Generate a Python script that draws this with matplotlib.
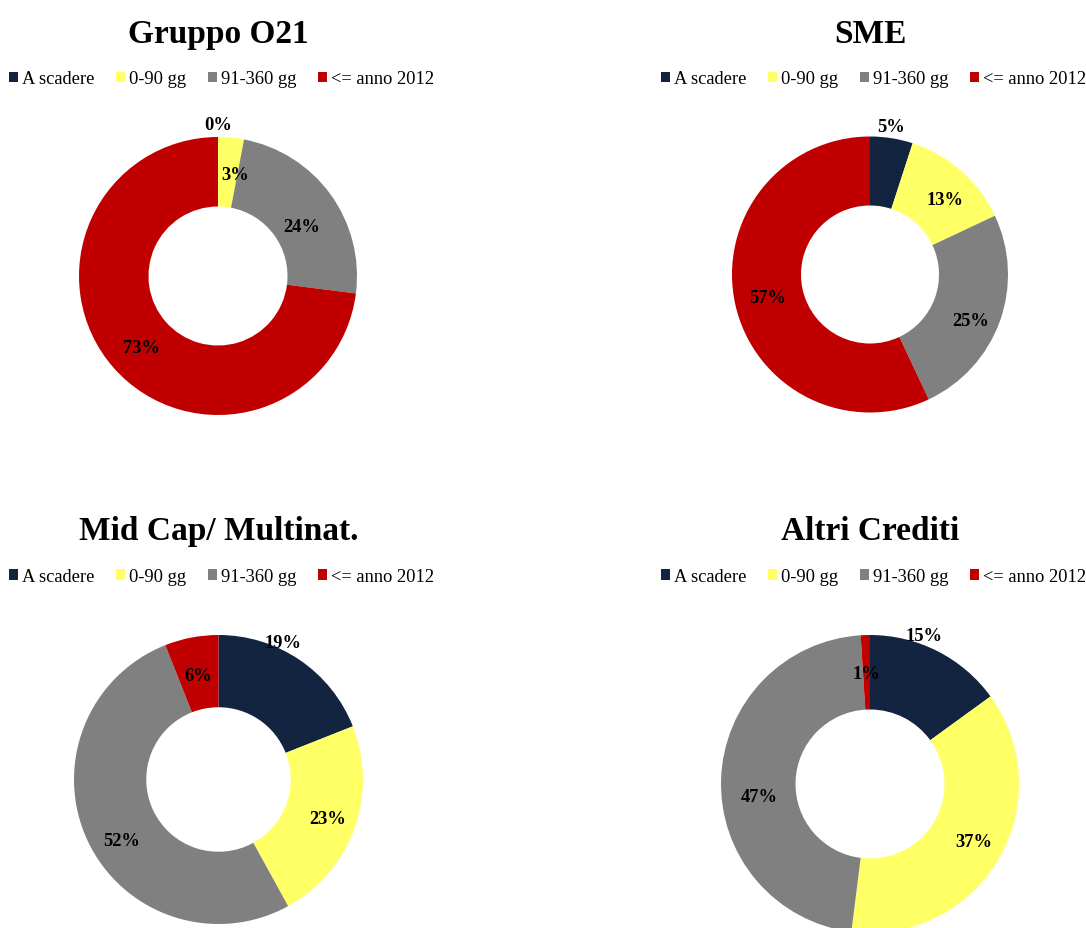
import numpy as np
import matplotlib
matplotlib.use("Agg")
import matplotlib.pyplot as plt
from matplotlib.patches import Patch

# ---------------- data ----------------
categories = ["A scadere", "0-90 gg", "91-360 gg", "<= anno 2012"]
titles = ["Gruppo O21", "SME", "Mid Cap/ Multinat.", "Altri Crediti"]
gruppo_o21 = [0, 3, 24, 73]
sme = [5, 13, 25, 57]
mid_cap = [19, 23, 52, 6]
altri_crediti = [15, 37, 47, 1]
series = [gruppo_o21, sme, mid_cap, altri_crediti]

# ---------------- style ----------------
colors = ["#12243F", "#FFFF66", "#808080", "#C00000"]
W, H = 1086, 929
# (center x px, center y px from top, outer radius px)
geoms = [(218, 277, 139), (870, 275.5, 138), (218.5, 780.5, 144.5), (870, 785, 149)]
title_pos = [(218, 43), (870, 43), (219, 540), (870, 540)]
legend_pos = [(221.5, 80), (873.5, 80), (221.5, 577.5), (873.5, 577.5)]
# per-label placement: (chart, slice) -> (radius factor, angle offset deg)
label_override = {
    (0, 0): (1.09, 0), (0, 1): (0.74, 4), (0, 2): (0.70, 5.5), (0, 3): (0.755, -1.7),
    (1, 0): (1.08, -1), (1, 1): (0.77, 3.5), (1, 2): (0.80, 5), (1, 3): (0.76, 0),
    (2, 0): (1.05, -9), (2, 1): (0.80, 0), (2, 2): (0.79, -7), (2, 3): (0.73, 0),
    (3, 0): (1.06, -7), (3, 1): (0.80, -1.5), (3, 2): (0.75, -8), (3, 3): (0.74, 0),
}
serif = ["Liberation Serif", "DejaVu Serif"]

fig = plt.figure(figsize=(W / 100, H / 100), dpi=100)
fig.patch.set_facecolor("white")

pad = 1.2
for i, (vals, title) in enumerate(zip(series, titles)):
    cx, cy, R = geoms[i]
    side = 2 * pad * R
    ax = fig.add_axes([(cx - pad * R) / W, (H - cy - pad * R) / H, side / W, side / H])
    wedges, _ = ax.pie(vals, colors=colors, startangle=90, counterclock=False,
                       radius=1.0, wedgeprops=dict(width=0.5, edgecolor="none"))
    ax.set_xlim(-pad, pad)
    ax.set_ylim(-pad, pad)
    ax.set_aspect("equal")
    ax.axis("off")
    total = float(sum(vals))
    cum = 0.0
    for j, v in enumerate(vals):
        mid_frac = (cum + v / 2.0) / total
        cum += v
        rf, dang = label_override.get((i, j), (0.75, 0))
        ang = np.deg2rad(mid_frac * 360 + dang)
        x = rf * np.sin(ang)
        y = rf * np.cos(ang)
        ax.text(x, y, f"{v}%", ha="center", va="center", fontsize=13.3,
                fontweight="bold", family=serif, color="black")
    tx, ty = title_pos[i]
    fig.text(tx / W, (H - ty) / H, title, ha="center", va="baseline",
             fontsize=24, fontweight="bold", family=serif)
    handles = [Patch(facecolor=c, edgecolor="none") for c in colors]
    lx, ly = legend_pos[i]
    fig.legend(handles, categories, loc="center", bbox_to_anchor=(lx / W, (H - ly) / H),
               ncol=4, frameon=False, handlelength=0.5, handleheight=0.5,
               handletextpad=0.22, columnspacing=1.15, borderpad=0, borderaxespad=0,
               prop=dict(family=serif, size=13.3))

fig.savefig("out.png", dpi=100, facecolor="white")
